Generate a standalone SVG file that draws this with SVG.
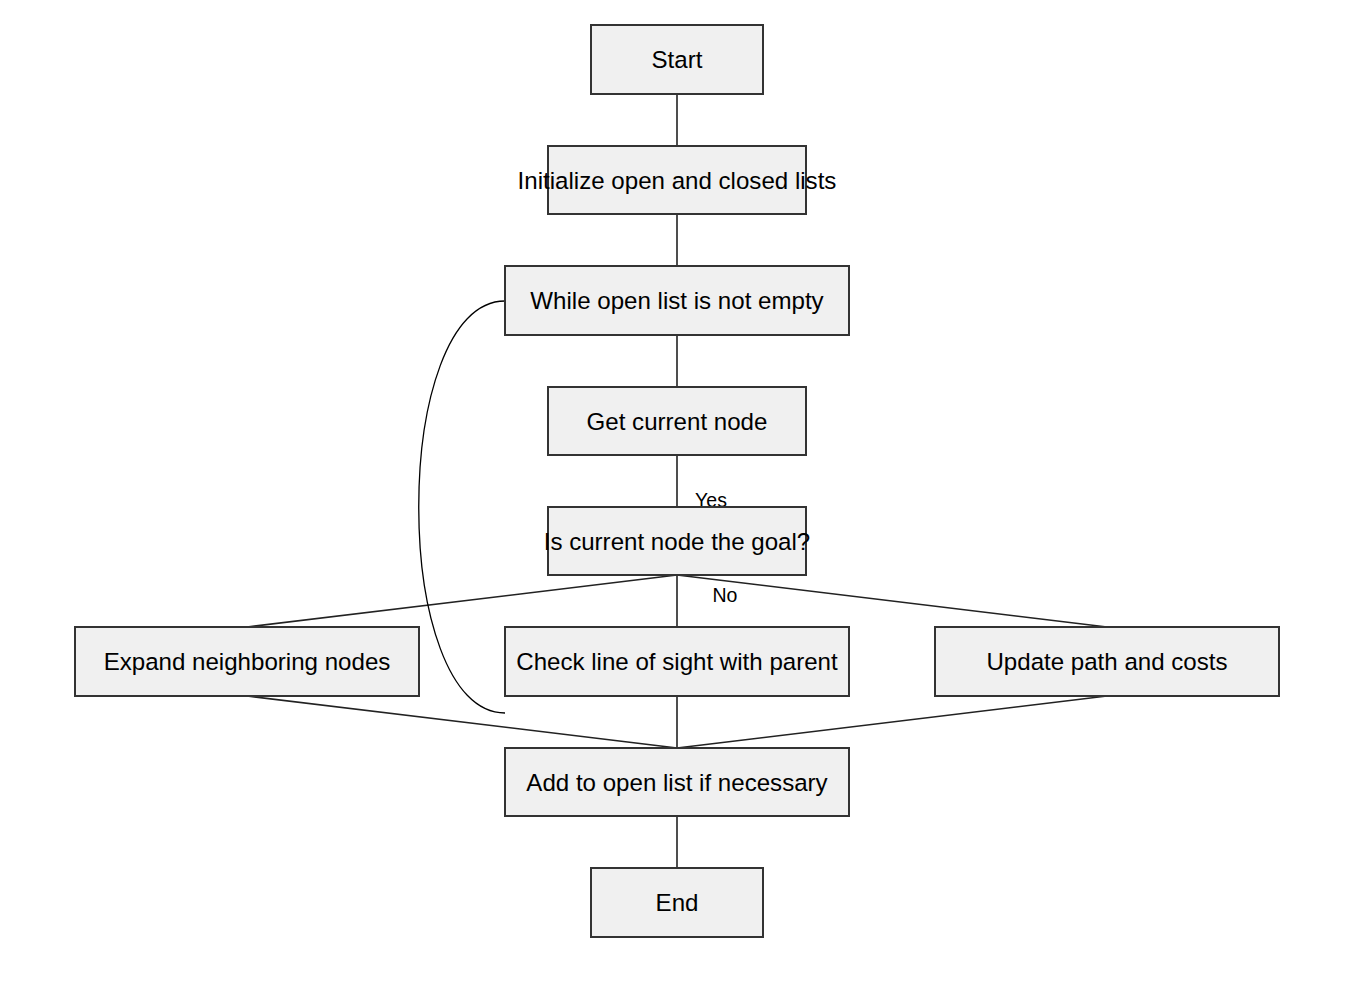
<svg xmlns="http://www.w3.org/2000/svg" width="1355" height="1004" viewBox="0 0 1355 1004">
<style>
.box{fill:#f0f0f0;stroke:#333;stroke-width:2}
.t{font-family:"Liberation Sans",Arial,sans-serif;font-size:24.1px;fill:#000;text-anchor:middle}
.lbl{font-family:"Liberation Sans",Arial,sans-serif;font-size:19.5px;fill:#000;text-anchor:middle}
.e{stroke:#222;stroke-width:1.6;fill:none}
.c{stroke:#000;stroke-width:1.3;fill:none}
</style>
<rect width="1355" height="1004" fill="#fff"/>
<g id="connectors">
<line class="e" x1="677" y1="94" x2="677" y2="146"/>
<line class="e" x1="677" y1="214" x2="677" y2="266"/>
<line class="e" x1="677" y1="335" x2="677" y2="387"/>
<line class="e" x1="677" y1="455" x2="677" y2="507"/>
<line class="e" x1="677" y1="575" x2="247" y2="627"/>
<line class="e" x1="677" y1="575" x2="677" y2="627"/>
<line class="e" x1="677" y1="575" x2="1107" y2="627"/>
<line class="e" x1="247" y1="696" x2="677" y2="748"/>
<line class="e" x1="677" y1="696" x2="677" y2="748"/>
<line class="e" x1="1107" y1="696" x2="677" y2="748"/>
<line class="e" x1="677" y1="816" x2="677" y2="868"/>
<path class="c" d="M505,301 C390,301 390,713 505,713"/>
<text class="lbl" x="711" y="507">Yes</text>
<text class="lbl" x="725" y="602">No</text>
</g>
<g id="start"><rect class="box" x="591" y="25" width="172" height="69"/><text class="t" x="677" y="68">Start</text></g>
<g id="init"><rect class="box" x="548" y="146" width="258" height="68"/><text class="t" x="677" y="189">Initialize open and closed lists</text></g>
<g id="while"><rect class="box" x="505" y="266" width="344" height="69"/><text class="t" x="677" y="309">While open list is not empty</text></g>
<g id="get"><rect class="box" x="548" y="387" width="258" height="68"/><text class="t" x="677" y="430">Get current node</text></g>
<g id="goal"><rect class="box" x="548" y="507" width="258" height="68"/><text class="t" x="677" y="550">Is current node the goal?</text></g>
<g id="expand"><rect class="box" x="75" y="627" width="344" height="69"/><text class="t" x="247" y="670">Expand neighboring nodes</text></g>
<g id="check"><rect class="box" x="505" y="627" width="344" height="69"/><text class="t" x="677" y="670">Check line of sight with parent</text></g>
<g id="update"><rect class="box" x="935" y="627" width="344" height="69"/><text class="t" x="1107" y="670">Update path and costs</text></g>
<g id="add"><rect class="box" x="505" y="748" width="344" height="68"/><text class="t" x="677" y="791">Add to open list if necessary</text></g>
<g id="end"><rect class="box" x="591" y="868" width="172" height="69"/><text class="t" x="677" y="911">End</text></g>
</svg>
